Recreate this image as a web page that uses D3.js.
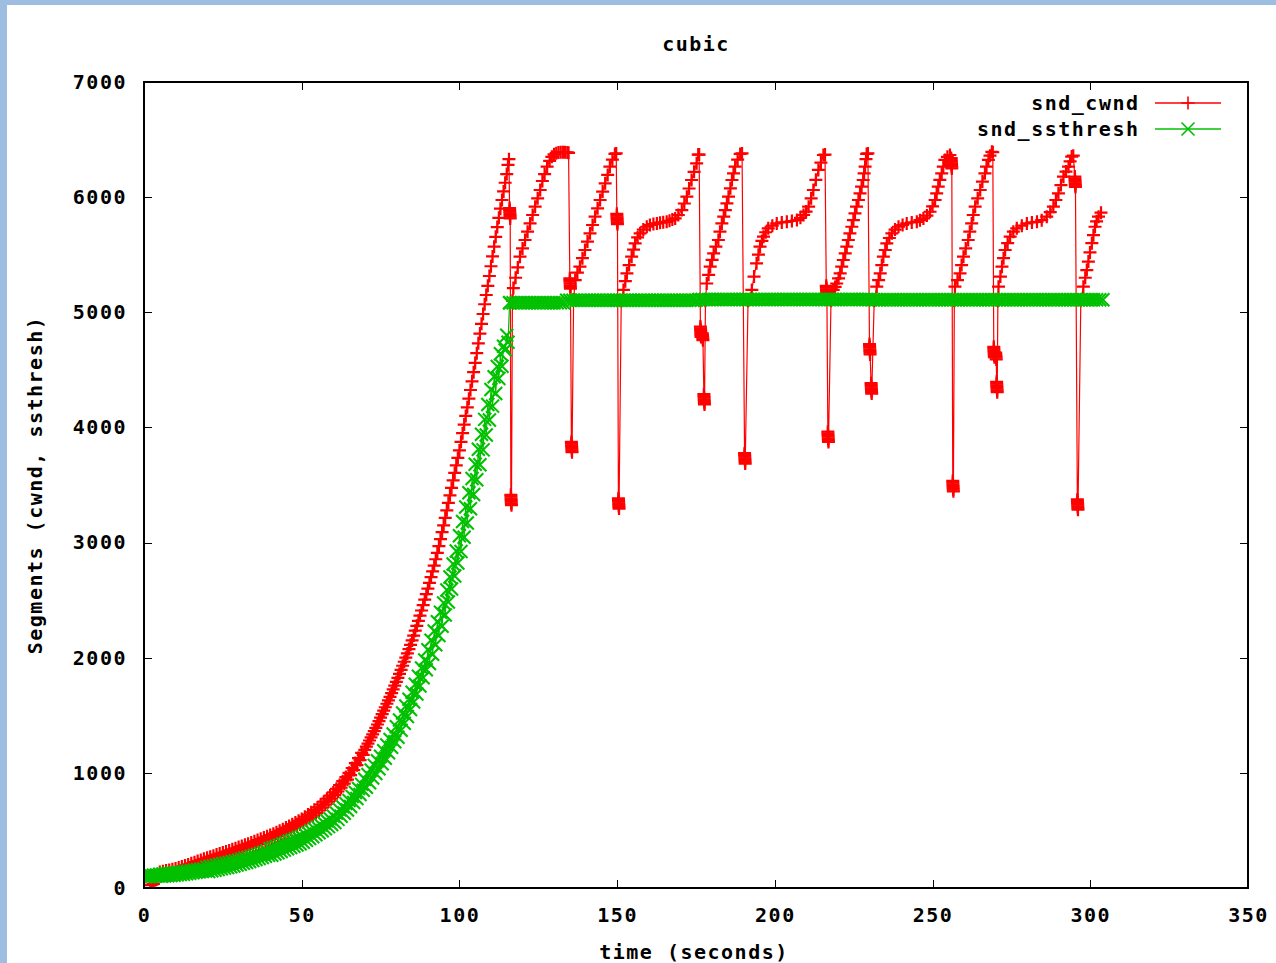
<!DOCTYPE html>
<html>
<head>
<meta charset="utf-8">
<script src="https://cdn.jsdelivr.net/npm/d3@7"></script>
<style>
  html, body { margin: 0; padding: 0; background: #fff; }
  svg { display: block; }
</style>
</head>
<body>
<svg id="chart" width="1276" height="963"></svg>
<script>
// ---------------- data ----------------
const chartTitle = "cubic";
const xLabel = "time (seconds)";
const yLabel = "Segments (cwnd, ssthresh)";
const seriesNames = ["snd_cwnd", "snd_ssthresh"];
const xDomain = [0, 350];
const yDomain = [0, 7000];
const xTicks = [0, 50, 100, 150, 200, 250, 300, 350];
const yTicks = [0, 1000, 2000, 3000, 4000, 5000, 6000, 7000];

// snd_cwnd during the initial growth: [time (s), segments]
const cwndGrowth = [
  [2,25],[2.5,30],[3,35],[3.5,70],[4,100],[4.5,112],
  [5,140],[5.5,103],[6,146],[6.5,109],[7,151],[7.5,114],[8,156],[8.5,119],[9,162],[9.5,126],
  [10,170],[10.5,134],[11,178],[11.5,143],[12,187],[12.5,152],[13,196],[13.5,161],[14,205],[14.5,170],
  [15,215],[15.5,180],[16,224],[16.5,189],[17,234],[17.5,199],[18,244],[18.5,209],[19,253],[19.5,218],
  [20,263],[20.5,228],[21,272],[21.5,237],[22,281],[22.5,246],[23,290],[23.5,255],[24,299],[24.5,264],
  [25,308],[25.5,273],[26,317],[26.5,282],[27,326],[27.5,291],[28,336],[28.5,301],[29,345],[29.5,310],
  [30,355],[30.5,320],[31,365],[31.5,330],[32,375],[32.5,340],[33,385],[33.5,350],[34,395],[34.5,360],
  [35,405],[35.5,371],[36,416],[36.5,382],[37,427],[37.5,393],[38,438],[38.5,404],[39,449],[39.5,415],
  [40,460],[40.5,426],[41,472],[41.5,439],[42,485],[42.5,452],[43,498],[43.5,465],[44,511],[44.5,478],
  [45,525],[45.5,492],[46,539],[46.5,507],[47,554],[47.5,522],[48,569],[48.5,537],[49,584],[49.5,552],
  [50,600],[50.5,570],[51,619],[51.5,589],[52,638],[52.5,608],[53,658],[53.5,629],[54,679],[54.5,650],
  [55,700],[55.5,673],[56,725],[56.5,698],[57,750],[57.5,723],[58,776],[58.5,750],[59,803],[59.5,777],
  [60,830],[60.5,806],[61,862],[61.5,838],[62,894],[62.5,871],[63,928],[63.5,906],[64,963],[64.5,942],
  [65,1000],[65.5,981],[66,1042],[66.5,1024],[67,1085],[67.5,1067],[68,1128],[68.5,1111],[69,1173],[69.5,1157],
  [70,1200],[70.5,1227],[71,1254],[71.5,1281],[72,1308],[72.5,1335],[73,1362],[73.5,1391],[74,1420],[74.5,1450],
  [75,1480],[75.5,1510],[76,1540],[76.5,1570],[77,1600],[77.5,1630],[78,1660],[78.5,1692],[79,1725],[79.5,1757],
  [80,1790],[80.5,1825],[81,1860],[81.5,1895],[82,1930],[82.5,1965],[83,2000],[83.5,2037],[84,2075],[84.5,2112],
  [85,2150],[85.5,2192],[86,2235],[86.5,2277],[87,2320],[87.5,2365],[88,2410],[88.5,2457],[89,2505],[89.5,2552],
  [90,2600],[90.5,2650],[91,2700],[91.5,2750],[92,2800],[92.5,2855],[93,2910],[93.5,2970],[94,3030],[94.5,3090],
  [95,3150],[95.5,3215],[96,3280],[96.5,3345],[97,3410],[97.5,3475],[98,3540],[98.5,3605],[99,3670],[99.5,3735],
  [100,3800],[100.5,3875],[101,3950],[101.5,4025],[102,4100],[102.5,4175],[103,4250],[103.5,4325],[104,4400],[104.5,4480],
  [105,4560],[105.5,4645],[106,4730],[106.5,4815],[107,4900],[107.5,4985],[108,5070],[108.5,5150],[109,5230],[109.5,5315],
  [110,5400],[110.5,5485],[111,5570],[111.5,5655],[112,5740],[112.5,5820],[113,5900],[113.5,5975],[114,6050],[114.5,6125],
  [115,6200],[115.4,6280],[115.7,6330]
];

// snd_cwnd after the first loss: drops (clusters of samples) and cubic regrowth, [time (s), segments]
const cwndCycles = [
  [115.9,5905],[115.93,5890],[115.96,5875],[116.0,5860],[116.03,5845],[116.06,5830],[116.1,5815],
  [116.3,3415],[116.33,3400],[116.36,3385],[116.4,3370],[116.43,3355],[116.46,3340],[116.5,3325],[116.8,5100],
  [117.1,5210],[117.8,5300],[118.5,5390],[119.2,5483],[120.0,5555],[120.8,5628],[121.6,5700],[122.4,5772],
  [123.2,5845],[124.0,5917],[124.8,5990],[125.6,6062],[126.3,6140],[127.0,6200],[127.8,6265],[128.6,6315],
  [129.3,6350],[130.0,6372],[130.7,6382],[131.4,6388],[132.1,6390],[132.8,6390],[133.5,6390],[134.2,6388],[134.6,6385],
  [135.0,5295],[135.03,5280],[135.06,5265],[135.1,5250],[135.13,5235],[135.16,5220],[135.2,5205],
  [135.5,3875],[135.53,3860],[135.56,3845],[135.6,3830],[135.63,3815],[135.66,3800],[135.7,3785],[136.2,5110],
  [136.7,5280],[137.4,5345],[138.2,5396],[139.0,5470],[139.8,5541],[140.6,5614],[141.4,5686],[142.2,5758],
  [143.0,5830],[143.8,5903],[144.6,5975],[145.4,6048],[146.2,6120],[147.0,6193],[147.7,6265],[148.5,6325],
  [149.3,6375],[149.7,6380],
  [149.9,5855],[149.93,5840],[149.96,5825],[150.0,5810],[150.03,5795],[150.06,5780],[150.1,5765],
  [150.4,3385],[150.43,3370],[150.46,3355],[150.5,3340],[150.53,3325],[150.56,3310],[150.6,3295],[151.3,5100],
  [152.0,5194],[152.6,5270],[153.1,5338],[153.8,5410],[154.6,5483],[155.2,5545],[155.7,5599],[156.5,5650],
  [157.3,5686],[158.3,5718],[159.4,5743],[160.4,5758],[161.5,5766],[162.6,5772],[163.6,5778],[164.6,5782],
  [165.7,5786],[166.6,5795],[167.5,5805],[168.4,5815],[169.4,5845],[170.5,5888],[171.3,5945],[172.1,6004],
  [172.8,6075],[173.6,6149],[174.4,6220],[175.2,6294],[175.7,6370],[176.0,6370],
  [176.4,4876],[176.43,4861],[176.46,4846],[176.5,4831],[176.53,4816],[176.56,4801],[176.6,4786],
  [177.0,4818],[177.05,4803],[177.1,4788],[177.15,4773],[177.2,4758],
  [177.5,4289],[177.53,4274],[177.56,4259],[177.6,4244],[177.63,4229],[177.66,4214],[177.7,4199],[178.0,5100],
  [178.4,5250],[179.0,5325],[179.5,5396],[180.1,5455],[180.6,5512],[181.3,5570],[182.1,5628],[182.6,5700],
  [183.2,5772],[183.8,5830],[184.3,5888],[184.8,5946],[185.3,6004],[185.9,6077],[186.4,6149],[186.9,6207],
  [187.4,6265],[188.2,6325],[189.0,6375],[189.6,6380],
  [190.4,3776],[190.43,3761],[190.46,3746],[190.5,3731],[190.53,3716],[190.56,3701],[190.6,3686],[191.5,5100],
  [192.7,5194],[193.4,5310],[194.2,5425],[194.8,5500],[195.3,5570],[195.9,5620],[196.4,5657],[197.1,5695],
  [197.9,5729],[199.2,5752],[200.6,5772],[202.2,5780],[203.8,5786],[205.4,5793],[207.0,5801],[208.1,5820],
  [209.1,5845],[209.9,5875],[210.7,5917],[211.5,5990],[212.2,6062],[213.0,6150],[213.8,6236],[214.6,6300],
  [215.4,6366],[215.9,6370],
  [216.3,5230],[216.33,5215],[216.36,5200],[216.4,5185],[216.43,5170],[216.46,5155],[216.5,5140],
  [216.8,3964],[216.83,3949],[216.86,3934],[216.9,3919],[216.93,3904],[216.96,3889],[217.0,3874],[217.8,5100],
  [218.5,5194],[219.1,5220],[219.6,5250],[220.2,5295],[220.7,5338],[221.2,5396],[221.7,5454],[222.3,5512],
  [222.8,5570],[223.3,5628],[223.8,5686],[224.4,5743],[224.9,5801],[225.4,5859],[225.9,5917],[226.5,5975],
  [227.0,6033],[227.5,6091],[228.0,6149],[228.3,6207],[228.6,6265],[228.9,6330],[229.1,6375],[229.5,6380],
  [230.0,4724],[230.03,4709],[230.06,4694],[230.1,4679],[230.13,4664],[230.16,4649],[230.2,4634],
  [230.5,4384],[230.53,4369],[230.56,4354],[230.6,4339],[230.63,4324],[230.66,4309],[230.7,4294],[231.5,5100],
  [232.3,5222],[232.9,5280],[233.4,5338],[233.9,5410],[234.4,5483],[235.0,5541],[235.5,5599],[236.3,5645],
  [237.1,5686],[238.1,5718],[239.2,5743],[240.5,5758],[241.8,5772],[243.4,5780],[245.0,5786],[246.0,5800],
  [247.1,5815],[248.2,5840],[249.2,5873],[250.0,5920],[250.8,5975],[251.3,6033],[251.8,6091],[252.3,6150],
  [252.9,6207],[253.4,6265],[253.9,6323],[254.7,6350],[255.5,6366],
  [255.9,6339],[255.93,6324],[255.96,6309],[256.0,6294],[256.03,6279],[256.06,6264],[256.1,6249],
  [256.4,3535],[256.43,3520],[256.46,3505],[256.5,3490],[256.53,3475],[256.56,3460],[256.6,3445],[256.9,5100],
  [257.1,5222],[257.9,5280],[258.7,5338],[259.2,5410],[259.8,5483],[260.5,5555],[261.3,5628],[261.8,5700],
  [262.4,5772],[262.9,5845],[263.5,5917],[264.3,5990],[265.1,6062],[265.8,6135],[266.6,6207],[267.1,6265],
  [267.7,6323],[268.2,6360],[268.8,6394],[269.1,6390],
  [269.4,4700],[269.43,4685],[269.46,4670],[269.5,4655],[269.53,4640],[269.56,4625],[269.6,4610],
  [270.0,4650],[270.05,4635],[270.1,4620],[270.15,4605],[270.2,4590],
  [270.3,4396],[270.33,4381],[270.36,4366],[270.4,4351],[270.43,4336],[270.46,4321],[270.5,4306],[270.7,5100],
  [270.9,5222],[271.5,5310],[272.0,5396],[272.5,5470],[273.0,5541],[273.8,5600],[274.6,5657],[275.6,5700],
  [276.7,5729],[278.3,5752],[279.9,5772],[281.5,5780],[283.1,5786],[284.6,5800],[286.2,5830],[287.3,5870],
  [288.3,5917],[289.1,5975],[289.9,6033],[290.7,6105],[291.5,6178],[292.3,6222],[293.1,6265],[293.6,6310],
  [294.1,6352],[294.6,6360],
  [295.1,6179],[295.13,6164],[295.16,6149],[295.2,6134],[295.23,6119],[295.26,6104],[295.3,6089],
  [295.9,3375],[295.93,3360],[295.96,3345],[296.0,3330],[296.03,3315],[296.06,3300],[296.1,3285],[297.0,5100],
  [297.8,5222],[298.4,5300],[298.9,5367],[299.4,5440],[299.9,5520],[300.5,5600],[301.0,5670],[301.5,5743],
  [302.0,5790],[302.6,5830],[303.4,5865]
];

// snd_ssthresh during the initial growth: [time (s), segments]
const ssthreshGrowth = [
  [0,104],[0.5,97],[1,106],[1.5,99],[2,108],[2.5,101],[3,110],[3.5,103],[4,112],[4.5,105],
  [5,120],[5.5,101],[6,122],[6.5,104],[7,125],[7.5,107],[8,128],[8.5,109],[9,130],[9.5,111],
  [10,132],[10.5,114],[11,135],[11.5,117],[12,138],[12.5,120],[13,142],[13.5,124],[14,146],[14.5,128],
  [15,150],[15.5,132],[16,154],[16.5,136],[17,158],[17.5,140],[18,162],[18.5,144],[19,166],[19.5,148],
  [20,180],[20.5,143],[21,186],[21.5,149],[22,192],[22.5,155],[23,198],[23.5,161],[24,204],[24.5,167],
  [25,210],[25.5,173],[26,216],[26.5,179],[27,222],[27.5,185],[28,228],[28.5,192],[29,235],[29.5,199],
  [30,242],[30.5,206],[31,250],[31.5,214],[32,258],[32.5,222],[33,266],[33.5,230],[34,274],[34.5,238],
  [35,282],[35.5,247],[36,291],[36.5,256],[37,300],[37.5,265],[38,310],[38.5,275],[39,320],[39.5,285],
  [40,340],[40.5,285],[41,350],[41.5,296],[42,361],[42.5,307],[43,372],[43.5,318],[44,383],[44.5,329],
  [45,394],[45.5,340],[46,405],[46.5,351],[47,416],[47.5,362],[48,427],[48.5,373],[49,438],[49.5,384],
  [50,450],[50.5,398],[51,466],[51.5,414],[52,482],[52.5,430],[53,498],[53.5,446],[54,514],[54.5,462],
  [55,530],[55.5,479],[56,548],[56.5,497],[57,566],[57.5,515],[58,584],[58.5,533],[59,602],[59.5,551],
  [60,625],[60.5,569],[61,652],[61.5,596],[62,679],[62.5,623],[63,706],[63.5,650],[64,733],[64.5,677],
  [65,760],[65.5,708],[66,795],[66.5,743],[67,830],[67.5,778],[68,865],[68.5,813],[69,900],[69.5,848],
  [70,945],[70.5,875],[71,985],[71.5,915],[72,1025],[72.5,955],[73,1065],[73.5,995],[74,1105],[74.5,1035],
  [75,1145],[75.5,1079],[76,1193],[76.5,1127],[77,1241],[77.5,1175],[78,1289],[78.5,1223],[79,1337],[79.5,1271],
  [80,1400],[80.5,1310],[81,1460],[81.5,1370],[82,1520],[82.5,1430],[83,1580],[83.5,1490],[84,1640],[84.5,1550],
  [85,1700],[85.5,1615],[86,1770],[86.5,1685],[87,1840],[87.5,1755],[88,1910],[88.5,1825],[89,1980],[89.5,1895],
  [90,2070],[90.5,1950],[91,2151],[91.5,2031],[92,2232],[92.5,2112],[93,2313],[93.5,2193],[94,2394],[94.5,2274],
  [95,2475],[95.5,2371],[96,2588],[96.5,2484],[97,2701],[97.5,2597],[98,2814],[98.5,2710],[99,2927],[99.5,2823],
  [100,3060],[100.5,2922],[101,3184],[101.5,3046],[102,3308],[102.5,3170],[103,3432],[103.5,3294],[104,3556],[104.5,3418],
  [105,3680],[105.5,3545],[106,3810],[106.5,3675],[107,3940],[107.5,3805],[108,4070],[108.5,3935],[109,4200],[109.5,4065],
  [110,4330],[110.5,4185],[111,4440],[111.5,4295],[112,4530],[112.5,4425],[113,4640],[113.5,4532],[114,4705],[114.5,4672],
  [115,4800],[115.4,4740],[115.9,5082]
];

// snd_ssthresh after the first loss, one sample per second starting at t = 116
const ssthreshFlat = [
  5082,5082,5082,5082,5082,5082,5082,5082,5082,5082,5082,5082,5082,5082,5082,5082,5082,5082,
  5104,5104,5104,5104,5104,5104,5104,5104,5104,5104,5104,5104,5104,5104,5104,5104,5104,5104,5104,5104,
  5104,5104,5104,5104,5104,5104,5104,5104,5104,5104,5104,5104,5104,5104,5104,5104,5104,5104,5104,5104,
  5104,5104,
  5112,5112,5112,5112,5112,5112,5112,5112,5112,5112,5112,5112,5112,5112,5112,5112,5112,5112,5112,5112,
  5112,5112,5112,5112,5112,5112,5112,5112,5112,5112,5112,5112,5112,5112,5112,5112,5112,5112,5112,5112,
  5112,5112,5112,5112,5112,5112,5112,5112,5112,5112,5112,5112,5112,5112,5112,
  5108,5108,5108,5108,5108,5108,5108,5108,5108,5108,5108,5108,5108,5108,5108,5108,5108,5108,5108,5108,
  5108,5108,5108,5108,5108,5108,5108,5108,5108,5108,5108,5108,5108,5108,5108,5108,5108,5108,5108,5108,
  5108,5108,5108,5108,5108,5108,5108,5108,5108,5108,5108,5108,5108,5108,5108,5108,5108,5108,5108,5108,
  5108,5108,5108,5108,5108,5108,5108,5108,5108,5108,5108,5108,5108,5108
];
const ssthreshFlatStart = 116;

// ---------------- drawing ----------------
const W = 1276, H = 963;
const plot = { left: 144, right: 1248, top: 82, bottom: 888 };
const RED = "#ff0000", GREEN = "#00c000";
const FONT = "'DejaVu Sans Mono', 'Liberation Mono', monospace";

const svg = d3.select("#chart");
svg.append("rect").attr("width", W).attr("height", H).attr("fill", "#fff");
svg.append("rect").attr("x", 0).attr("y", 0).attr("width", W).attr("height", 5).attr("fill", "#9dbde1");
svg.append("rect").attr("x", 0).attr("y", 0).attr("width", 7).attr("height", H).attr("fill", "#9dbde1");

const x = d3.scaleLinear().domain(xDomain).range([plot.left, plot.right]);
const y = d3.scaleLinear().domain(yDomain).range([plot.bottom, plot.top]);

svg.append("defs").append("clipPath").attr("id", "plotclip")
  .append("rect").attr("x", plot.left).attr("y", plot.top)
  .attr("width", plot.right - plot.left).attr("height", plot.bottom - plot.top);

function styleText(sel) {
  sel.attr("font-family", FONT).attr("font-size", 20).attr("font-weight", "bold")
     .attr("fill", "#000").attr("letter-spacing", "1.5px");
}

// axes (ticks inside, mirrored on top/right)
const gx = svg.append("g").attr("transform", `translate(0,${plot.bottom})`)
  .call(d3.axisBottom(x).tickValues(xTicks).tickSize(-8).tickPadding(20).tickFormat(d3.format("d")));
const gy = svg.append("g").attr("transform", `translate(${plot.left},0)`)
  .call(d3.axisLeft(y).tickValues(yTicks).tickSize(-8).tickPadding(17).tickFormat(d3.format("d")));
const gxt = svg.append("g").attr("transform", `translate(0,${plot.top})`)
  .call(d3.axisTop(x).tickValues(xTicks).tickSize(-8).tickFormat(""));
const gyr = svg.append("g").attr("transform", `translate(${plot.right},0)`)
  .call(d3.axisRight(y).tickValues(yTicks).tickSize(-8).tickFormat(""));
[gx, gy, gxt, gyr].forEach(g => {
  g.attr("color", "#000");
  g.select(".domain").remove();
  g.selectAll(".tick line").attr("stroke-width", 1).attr("shape-rendering", "crispEdges");
  g.selectAll("text").call(styleText);
});

// series
const cwnd = cwndGrowth.concat(cwndCycles);
const ssthreshPts = ssthreshGrowth.concat(ssthreshFlat.map((v, i) => [ssthreshFlatStart + i, v]));
const line = d3.line().x(d => x(d[0])).y(d => y(d[1]));

const PS = 6.5;
const plusPath = `M${-PS},0H${PS}M0,${-PS}V${PS}`;
const crossPath = `M${-PS},${-PS}L${PS},${PS}M${-PS},${PS}L${PS},${-PS}`;

const gPlot = svg.append("g").attr("clip-path", "url(#plotclip)");

gPlot.append("path").datum(cwnd).attr("d", line)
  .attr("fill", "none").attr("stroke", RED).attr("stroke-width", 1.2);
gPlot.append("g").selectAll("path").data(cwnd).join("path")
  .attr("transform", d => `translate(${x(d[0])},${y(d[1])})`)
  .attr("d", plusPath).attr("fill", "none").attr("stroke", RED).attr("stroke-width", 2.2);

gPlot.append("path").datum(ssthreshPts).attr("d", line)
  .attr("fill", "none").attr("stroke", GREEN).attr("stroke-width", 1.2);
gPlot.append("g").selectAll("path").data(ssthreshPts).join("path")
  .attr("transform", d => `translate(${x(d[0])},${y(d[1])})`)
  .attr("d", crossPath).attr("fill", "none").attr("stroke", GREEN).attr("stroke-width", 2.1);

// frame
svg.append("rect").attr("x", plot.left).attr("y", plot.top)
  .attr("width", plot.right - plot.left).attr("height", plot.bottom - plot.top)
  .attr("fill", "none").attr("stroke", "#000").attr("stroke-width", 1.2)
  .attr("shape-rendering", "crispEdges");

// title and axis labels
svg.append("text").attr("x", 696).attr("y", 51).attr("text-anchor", "middle").text(chartTitle).call(styleText);
svg.append("text").attr("x", 694).attr("y", 959).attr("text-anchor", "middle").text(xLabel).call(styleText);
svg.append("text").attr("transform", "translate(42,485) rotate(-90)").attr("text-anchor", "middle")
  .text(yLabel).call(styleText);

// legend
const legend = [
  { name: seriesNames[0], color: RED, mark: plusPath, y: 103 },
  { name: seriesNames[1], color: GREEN, mark: crossPath, y: 129 }
];
const lg = svg.append("g").selectAll("g").data(legend).join("g")
  .attr("transform", d => `translate(0,${d.y})`);
lg.append("text").attr("x", 1139.5).attr("y", 7.3).attr("text-anchor", "end").text(d => d.name).call(styleText);
lg.append("line").attr("x1", 1155).attr("x2", 1221).attr("y1", 0).attr("y2", 0)
  .attr("stroke", d => d.color).attr("stroke-width", 1.5);
lg.append("path").attr("transform", "translate(1188,0)").attr("d", d => d.mark)
  .attr("fill", "none").attr("stroke", d => d.color).attr("stroke-width", 1.6);
</script>
</body>
</html>
